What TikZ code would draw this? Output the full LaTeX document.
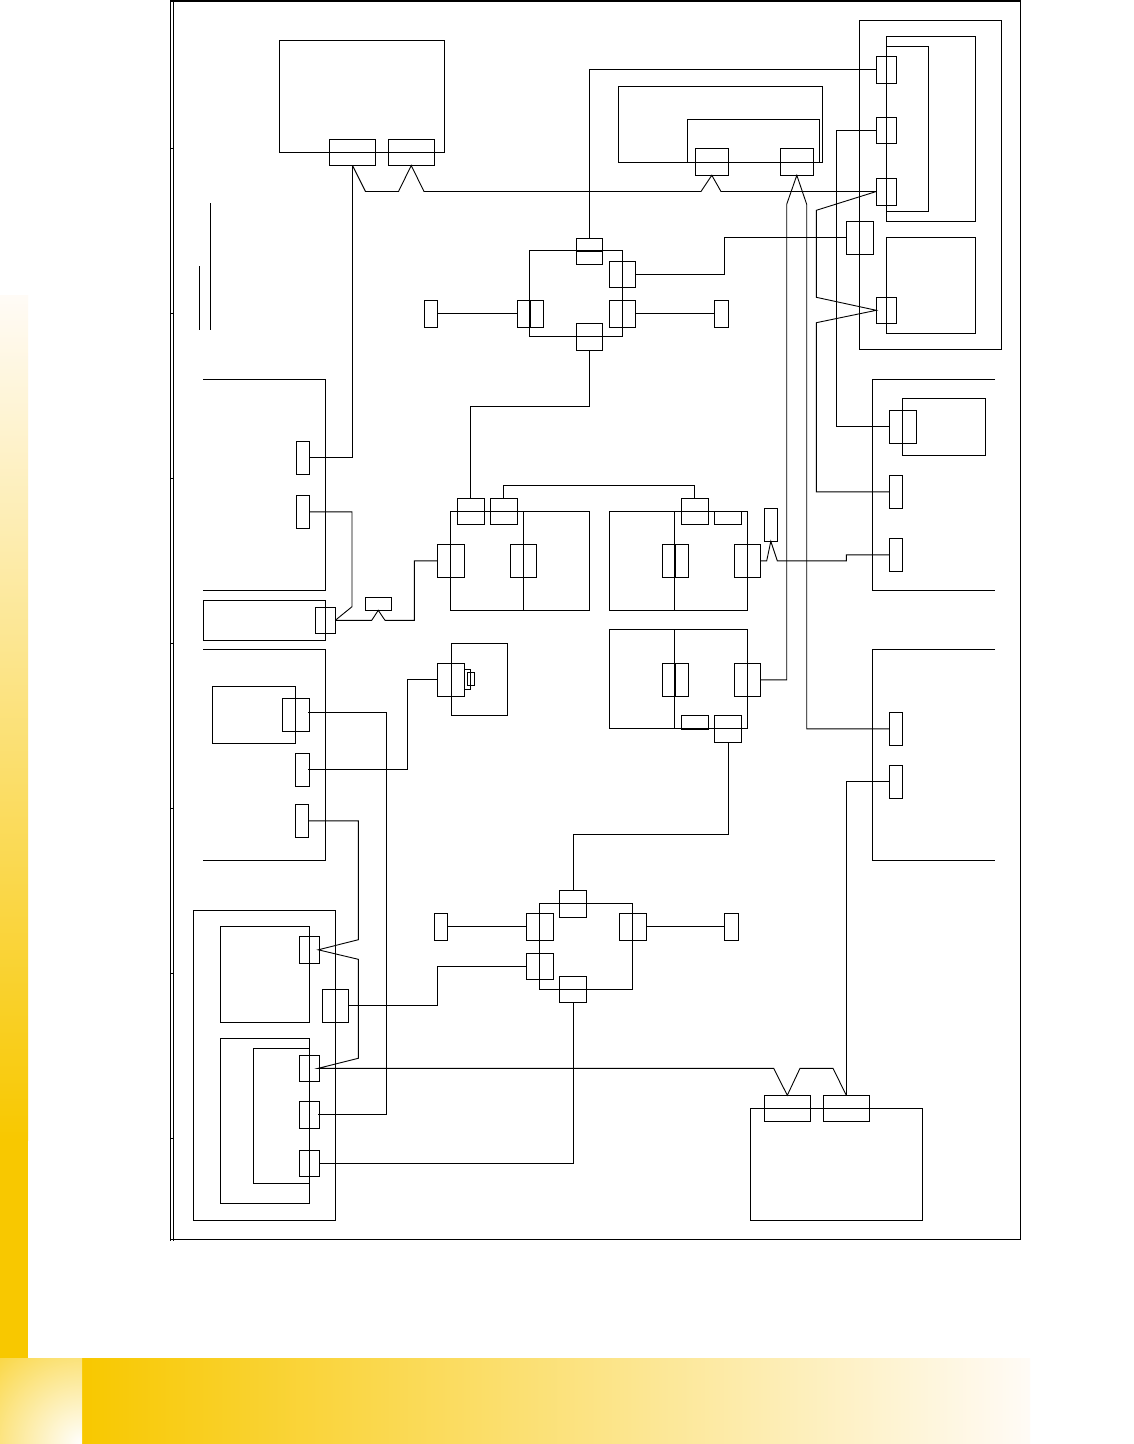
\documentclass[tikz,border=0pt]{standalone}
\definecolor{brandyellow}{HTML}{F8C800}
\definecolor{palewhite}{HTML}{FFFBF6}
\tikzset{
  wire/.style={draw=black,line width=0.9pt,line join=miter},
  bx/.style={draw=black,line width=0.9pt,rectangle,inner sep=0pt,outer sep=0pt,fill=none}
}
\newcommand{\bxn}[5]{\node[bx,minimum width={(#4-#2)*1pt},minimum height={(#5-#3)*1pt}] (#1) at ({(#2+#4)/2},{(#3+#5)/2}) {};}
\begin{document}
\begin{tikzpicture}[x=1pt,y=-1pt]
\useasboundingbox (0,0) rectangle (1134,1444);
\fill[white] (0,0) rectangle (1134,1444);
% decorative bands
\shade[top color=palewhite,bottom color=brandyellow,shading angle=0] (0,295) rectangle (28,1140);
\fill[brandyellow] (0,1139.5) rectangle (28,1358);
\shade[left color=brandyellow,right color=palewhite] (82,1358) rectangle (1030,1444);
\begin{scope}
\clip (0,1358) rectangle (82,1444);
\shade[inner color=white,outer color=brandyellow] (82,1444) circle (165);
\end{scope}
% frame
\draw[wire,line width=2pt] (170,1) -- (1021,1);
\draw[wire] (170.7,1) -- (170.7,1241);
\draw[wire] (173.3,1) -- (173.3,1241);
\draw[wire] (1020.3,1) -- (1020.3,1240);
\draw[wire,line width=1.4pt] (170,1239.6) -- (1021,1239.6);
\foreach \yy in {148.3,313.3,478.3,643.3,808.3,973.3,1138.3} \draw[wire] (170,\yy) -- (173.3,\yy);
\draw[wire] (210.3,203) -- (210.3,329.7);
\draw[wire] (199.3,266) -- (199.3,329.7);
% top-left unit
\bxn{A}{279.5}{40.5}{444}{152.5}
\bxn{a1}{329.5}{139.5}{375.5}{165.5}
\bxn{a2}{388}{139.5}{434.5}{165.5}
% top-middle unit
\bxn{TM}{618.3}{86.3}{822.3}{162.3}
\bxn{TMi}{687.3}{119.3}{819.3}{162.3}
\bxn{tm1}{695.3}{148.3}{728.3}{175.3}
\bxn{tm2}{780.3}{148.3}{813.3}{175.3}
% top-right group
\bxn{RO}{859.3}{20.3}{1001.3}{349.3}
\bxn{RT}{886.3}{36.3}{975.3}{221.3}
\bxn{RTi}{886.3}{46.3}{928.3}{211.3}
\bxn{RL}{886.3}{237.3}{975.3}{333.3}
\bxn{r1}{876.3}{56.3}{896.7}{83.3}
\bxn{r2}{876.3}{117.3}{896.7}{143.3}
\bxn{r3}{876.3}{178}{896.7}{205}
\bxn{r4}{876.3}{297.3}{896.7}{323.3}
\bxn{bp}{846.3}{221.3}{873.7}{254.3}
% upper ring
\bxn{RU}{529.3}{250.3}{622.7}{336.3}
\bxn{ut}{576.3}{238.3}{602.3}{264.3}
\bxn{ub}{576.3}{323.3}{602.3}{350.3}
\bxn{ul}{517.3}{300.3}{543.3}{327.3}
\bxn{uru}{609.3}{261.3}{635.7}{287.3}
\bxn{url}{609.3}{300.3}{635.7}{327.3}
\bxn{usl}{424.3}{300.3}{437.3}{327.3}
\bxn{usr}{714.3}{300.3}{728.3}{327.3}
\draw[wire] (ut.west) -- (ut.east);
\draw[wire] (ul.north) -- (ul.south);
% centre units
\bxn{C}{450.3}{511.3}{589.3}{610.3}
\draw[wire] (523.3,511.3) -- (523.3,610.3);
\bxn{c1}{457.3}{498.3}{484.3}{524.3}
\bxn{c2}{490.3}{498.3}{517.3}{524.3}
\bxn{c3}{437.3}{544.3}{464.3}{577.3}
\draw[wire] (c3.north) -- (c3.south);
\bxn{c4}{510.3}{544.3}{536.3}{577.3}
\bxn{D}{609.3}{511.3}{747.3}{610.3}
\draw[wire] (674.3,511.3) -- (674.3,610.3);
\bxn{d1}{681.3}{498.3}{708.3}{524.3}
\bxn{d2}{714.3}{511.3}{741.3}{524.3}
\bxn{d3}{662.3}{544.3}{688.3}{577.3}
\draw[wire] (d3.north) -- (d3.south);
\bxn{d4}{734.3}{544.3}{760.3}{577.3}
\bxn{sm}{764.3}{508.3}{777.3}{541.3}
\bxn{E}{609.3}{629.3}{747.3}{728.3}
\draw[wire] (674.3,629.3) -- (674.3,728.3);
\bxn{e1}{662.3}{663.3}{688.3}{696.3}
\draw[wire] (e1.north) -- (e1.south);
\bxn{e2}{734.3}{663.3}{760.3}{696.3}
\bxn{e3}{681.3}{715.3}{708.3}{729.3}
\bxn{e4}{714.3}{715.3}{741.3}{742.3}
\draw[wire] (e4.west) -- (e4.east);
% camera
\bxn{CM}{451.3}{643.3}{507.3}{715.3}
\bxn{cm1}{437.3}{663.3}{464.3}{696.3}
\bxn{cm2}{464.3}{669.3}{470.3}{689.3}
\bxn{cm3}{467.3}{672.3}{474.3}{685.3}
% right open boxes
\draw[wire] (995,379.3) -- (872.3,379.3) -- (872.3,590.3) -- (995,590.3);
\bxn{Fi}{902.3}{398.5}{985.3}{455.5}
\bxn{f1}{889.3}{410.3}{916.3}{443.3}
\bxn{f2}{889.3}{475.3}{902.3}{508.3}
\bxn{f3}{889.3}{538.3}{902.3}{571.3}
\draw[wire] (995,649.3) -- (872.3,649.3) -- (872.3,860.3) -- (995,860.3);
\bxn{g1}{889.3}{712.3}{902.3}{745.3}
\bxn{g2}{889.3}{765.3}{902.3}{798.3}
% left open boxes
\draw[wire] (203,379.3) -- (325.5,379.3) -- (325.5,590.3) -- (203,590.3);
\bxn{h1}{296.3}{441.3}{309.3}{474.3}
\bxn{h2}{296.3}{495.3}{309.3}{528.3}
\bxn{I}{203.3}{600.3}{325.7}{640.3}
\bxn{ip}{315.3}{607.3}{335.3}{633.3}
\bxn{sp}{365.3}{597.3}{391.3}{610.3}
\draw[wire] (203,649.3) -- (325.7,649.3) -- (325.7,860.3) -- (203,860.3);
\bxn{Ji}{212.3}{686.3}{295.3}{743.3}
\bxn{j1}{282.3}{698.3}{309.3}{731.3}
\bxn{j2}{295.3}{753.3}{309.3}{786.3}
\bxn{j3}{295.3}{804.3}{308.3}{837.3}
% bottom-left group
\bxn{BO}{193.3}{910.3}{335.3}{1220.3}
\bxn{B1}{220.3}{926.3}{309.3}{1022.3}
\bxn{B2}{220.3}{1038.3}{309.3}{1203.3}
\bxn{B2i}{253.3}{1048.3}{309.3}{1183.3}
\bxn{b1}{299.3}{936.3}{319.3}{963.3}
\bxn{b2}{299.3}{1055.3}{319.3}{1081.3}
\bxn{b3}{299.3}{1101.3}{319.3}{1128.3}
\bxn{b4}{299.3}{1150.3}{319.3}{1176.3}
\bxn{bb}{322.3}{989.3}{348.3}{1022.3}
% lower ring
\bxn{RD}{539.3}{903.3}{632.5}{989.3}
\bxn{lt}{559.8}{890.3}{586.8}{917.3}
\bxn{lb}{559.8}{976.3}{586.8}{1002.3}
\bxn{ll1}{526.3}{913.3}{553.3}{940.3}
\bxn{ll2}{526.3}{953.3}{553.3}{979.3}
\draw[wire] (ll1.north) -- (ll1.south);
\draw[wire] (ll2.north) -- (ll2.south);
\bxn{lr}{619.3}{913.3}{646.3}{940.3}
\bxn{lsl}{434.3}{913.3}{447.3}{940.3}
\bxn{lsr}{724.3}{913.3}{738.3}{940.3}
% bottom-right unit
\bxn{K}{750.3}{1108.3}{922.3}{1220.3}
\bxn{k1}{764.3}{1095.3}{810.3}{1121.3}
\bxn{k2}{823.3}{1095.3}{869.3}{1121.3}
% connectors
\draw[wire] (a1.south) |- (h1.east);
\draw[wire] (a1.south) -- (365.5,191.5) -- (398.5,191.5) -- (a2.south) -- (424,191.5) -- (701,191.5) -- (tm1.south) -- (721,191.5) -- (r3.west);
\draw[wire] (ut.north) |- (r1.west);
\draw[wire] (r2.west) -- +(-40,0) |- (f1.west);
\draw[wire] (r3.west) -- (816.3,210.3) -- (816.3,297.3) -- (r4.west) -- (816.3,322.7) |- (f2.west);
\draw[wire] (bp.west) -- +(-121.6,0) |- (uru.east);
\draw[wire] (usl.east) -- (ul.west);
\draw[wire] (url.east) -- (usr.west);
\draw[wire] (ub.south) -- +(0,56) -| (c1.north);
\draw[wire] (c2.north) -- +(0,-13) -| (d1.north);
\draw[wire] ([xshift=0.5pt]e4.south) -- +(0,92) -| (lt.north);
\draw[wire] (d4.east) -- (766.7,560.8) -- (sm.south) -- (777.3,560.8) -- (846.3,560.8) -- (846.3,554.8) -- (f3.west);
\draw[wire] (e2.east) -- (786.7,679.8) -- (786.7,204.3) -- (tm2.south) -- (806.7,204.3) |- (g1.west);
\draw[wire] (g2.west) -| (k2.north);
\draw[wire] (h2.east) -- (352,511.8) -- (352,606.7) -- (ip.east);
\draw[wire] (ip.east) -- (371.7,620.3) -- (sp.south) -- (385,620.3) -- (414.3,620.3) |- (c3.west);
\draw[wire] ([xshift=-1pt,yshift=2.5pt]j1.east) -- (386.7,712.3) |- ([xshift=-1pt]b3.east);
\draw[wire] ([xshift=-1pt]j2.east) -- (407.7,769.8) |- (cm1.west);
\draw[wire] (j3.east) -- (358.3,820.8) -- (358.3,939.7) -- ([xshift=-1pt]b1.east) -- (358.3,959.3) -- (358.3,1058.3) -- ([xshift=-1pt]b2.east) -- (773.7,1068.3) -- (k1.north) -- (800,1068.3) -- (833,1068.3) -- (k2.north);
\draw[wire] (b4.east) -| (lb.south);
\draw[wire] (bb.east) -- (437.3,1005.8) |- (ll2.west);
\draw[wire] (lsl.east) -- (ll1.west);
\draw[wire] (lr.east) -- (lsr.west);
\end{tikzpicture}
\end{document}
